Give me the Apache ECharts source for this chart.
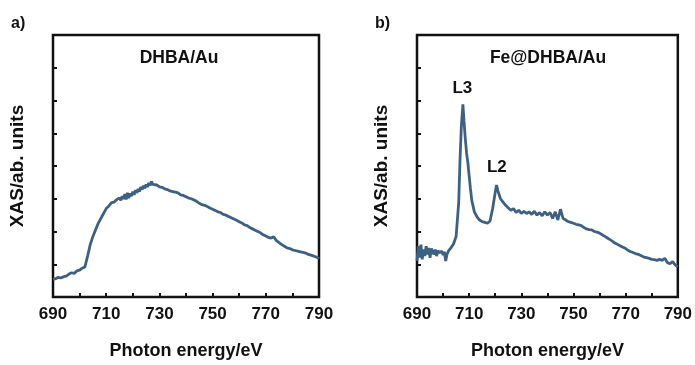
<!DOCTYPE html>
<html><head><meta charset="utf-8">
<script src="https://cdn.jsdelivr.net/npm/echarts@6/dist/echarts.min.js"></script>
<style>html,body{margin:0;padding:0;background:#fff}#c{width:695px;height:365px}</style>
</head><body><div id="c"></div>
<script>
const xTicks = [690, 710, 730, 750, 770, 790];
const energyA = [690,691,692,693,694,695,696,697,698,699,700,701,702,703,704,705,706,707,708,709,710,711,712,713,714,714.5,715,715.5,716,716.5,717,717.5,718,718.5,719,719.5,720,720.5,721,721.5,722,722.5,723,723.5,724,724.5,725,725.5,726,726.5,727,727.5,728,729,730,731,732,733,734,735,736,737,738,739,740,741,742,743,744,745,746,747,748,749,750,751,752,753,754,755,756,757,758,759,760,761,762,763,764,765,766,767,768,769,770,771,772,773,774,775,776,777,778,779,780,781,782,783,784,785,786,787,788,789,790];
const xasA = [0.54,0.56,0.60,0.58,0.62,0.64,0.70,0.74,0.72,0.80,0.82,0.88,0.92,1.25,1.60,1.85,2.05,2.25,2.40,2.55,2.70,2.78,2.88,2.90,2.98,2.92,3.02,2.95,3.08,3.00,3.14,2.98,3.18,3.02,3.16,3.08,3.22,3.12,3.26,3.18,3.30,3.22,3.36,3.28,3.40,3.32,3.44,3.36,3.48,3.40,3.53,3.44,3.40,3.42,3.36,3.35,3.30,3.28,3.24,3.22,3.20,3.18,3.12,3.10,3.06,3.02,3.00,2.96,2.92,2.86,2.82,2.80,2.76,2.72,2.68,2.64,2.60,2.58,2.52,2.50,2.46,2.42,2.38,2.34,2.30,2.26,2.20,2.18,2.12,2.08,2.04,2.00,1.96,1.90,1.86,1.82,1.80,1.84,1.72,1.66,1.60,1.55,1.50,1.48,1.44,1.42,1.40,1.38,1.36,1.34,1.30,1.28,1.25,1.22,1.17];
const energyB = [690,690.5,691,691.5,692,692.5,693,693.5,694,694.5,695,695.5,696,696.5,697,697.5,698,698.5,699,699.5,700,700.5,701,701.5,702,703,704,705,706,706.5,707,707.6,708,708.5,709,709.5,710,710.5,711,712,713,714,715,716,717,718,719,720,720.5,721,722,723,724,725,726,727,728,729,730,731,732,733,734,735,736,737,738,739,740,741,742,743,744,745,746,747,748,749,750,751,752,753,754,755,756,757,758,759,760,761,762,763,764,765,766,767,768,769,770,771,772,773,774,775,776,777,778,779,780,781,782,783,784,785,786,787,788,789,790];
const xasB = [1.10,1.55,1.20,1.60,1.15,1.45,1.25,1.55,1.30,1.50,1.20,1.48,1.40,1.30,1.45,1.25,1.42,1.35,1.30,1.40,1.28,1.38,1.10,1.30,1.40,1.50,1.62,1.85,2.90,4.20,5.20,5.88,5.40,4.85,4.40,4.10,3.70,3.30,2.95,2.60,2.45,2.35,2.30,2.28,2.25,2.32,2.70,3.20,3.42,3.25,3.00,2.90,2.80,2.72,2.65,2.70,2.58,2.65,2.55,2.62,2.55,2.60,2.52,2.62,2.50,2.58,2.48,2.60,2.50,2.58,2.40,2.60,2.35,2.68,2.40,2.35,2.30,2.28,2.25,2.22,2.20,2.18,2.12,2.08,2.06,2.05,2.00,1.98,1.95,1.90,1.85,1.80,1.75,1.70,1.64,1.60,1.56,1.52,1.48,1.42,1.38,1.35,1.32,1.30,1.26,1.22,1.20,1.18,1.15,1.14,1.12,1.15,1.12,1.18,1.05,1.02,1.08,0.98,0.92];
const peakLabels = [{name: 'L3', energy: 707.4, y: 6.38}, {name: 'L2', energy: 720.6, y: 3.95}];
const panelTitles = ['DHBA/Au', 'Fe@DHBA/Au'];
const panelTags = ['a)', 'b)'];
const xName = 'Photon energy/eV';
const yName = 'XAS/ab. units';

const FONT = '"Liberation Sans", Arial, sans-serif';
const LINE = '#3e6183';
const grids = [
  {left: 53, top: 35, width: 266, height: 267},
  {left: 417, top: 35, width: 265, height: 267}
];
function xAx(i) {
  return {
    gridIndex: i, type: 'value', min: 690, max: 790, interval: 10,
    name: xName, nameLocation: 'middle', nameGap: 45,
    nameTextStyle: {fontFamily: FONT, fontWeight: 'bold', fontSize: 18, color: '#111'},
    axisLine: {show: false},
    axisTick: {show: true, inside: true, length: 4, lineStyle: {color: '#111', width: 2}},
    axisLabel: {margin: 9, fontFamily: FONT, fontWeight: 'bold', fontSize: 17, color: '#111',
      formatter: v => xTicks.indexOf(v) >= 0 ? String(v) : ''},
    splitLine: {show: false}
  };
}
function yAx(i) {
  return {
    gridIndex: i, type: 'value', min: 0, max: 8, interval: 1,
    name: yName, nameLocation: 'middle', nameGap: 26,
    nameTextStyle: {fontFamily: FONT, fontWeight: 'bold', fontSize: 19, color: '#111'},
    axisLine: {show: false},
    axisTick: {show: true, inside: true, length: 4, lineStyle: {color: '#111', width: 2}},
    axisLabel: {show: false},
    splitLine: {show: false}
  };
}
const chart = echarts.init(document.getElementById('c'), null, {renderer: 'canvas'});
chart.setOption({
  animation: false,
  backgroundColor: '#fff',
  grid: grids.map(g => Object.assign({show: true, borderColor: '#111', borderWidth: 2.5, backgroundColor: 'transparent'}, g)),
  xAxis: [xAx(0), xAx(1)],
  yAxis: [yAx(0), yAx(1)],
  series: [
    {type: 'line', xAxisIndex: 0, yAxisIndex: 0, showSymbol: false, symbol: 'none',
     lineStyle: {color: LINE, width: 2.8}, data: energyA.map((e, i) => [e, xasA[i]])},
    {type: 'line', xAxisIndex: 1, yAxisIndex: 1, showSymbol: false, symbol: 'none',
     lineStyle: {color: LINE, width: 2.8}, data: energyB.map((e, i) => [e, xasB[i]]),
     markPoint: {symbol: 'circle', symbolSize: 1, itemStyle: {color: 'rgba(0,0,0,0)'},
       label: {show: true, position: 'inside', fontFamily: FONT, fontWeight: 'bold', fontSize: 17, color: '#111',
         formatter: p => p.name},
       data: peakLabels.map(p => ({name: p.name, coord: [p.energy, p.y]}))}}
  ],
  graphic: [
    {type: 'text', left: 11, top: 16, style: {text: panelTags[0], font: 'bold 16px ' + FONT, fill: '#111'}},
    {type: 'text', left: 375, top: 16, style: {text: panelTags[1], font: 'bold 16px ' + FONT, fill: '#111'}},
    {type: 'text', x: 179, y: 58, style: {text: panelTitles[0], font: 'bold 17.5px ' + FONT, fill: '#111', textAlign: 'center', textVerticalAlign: 'middle'}},
    {type: 'text', x: 548, y: 58, style: {text: panelTitles[1], font: 'bold 17.5px ' + FONT, fill: '#111', textAlign: 'center', textVerticalAlign: 'middle'}}
  ]
});
</script>
</body></html>
